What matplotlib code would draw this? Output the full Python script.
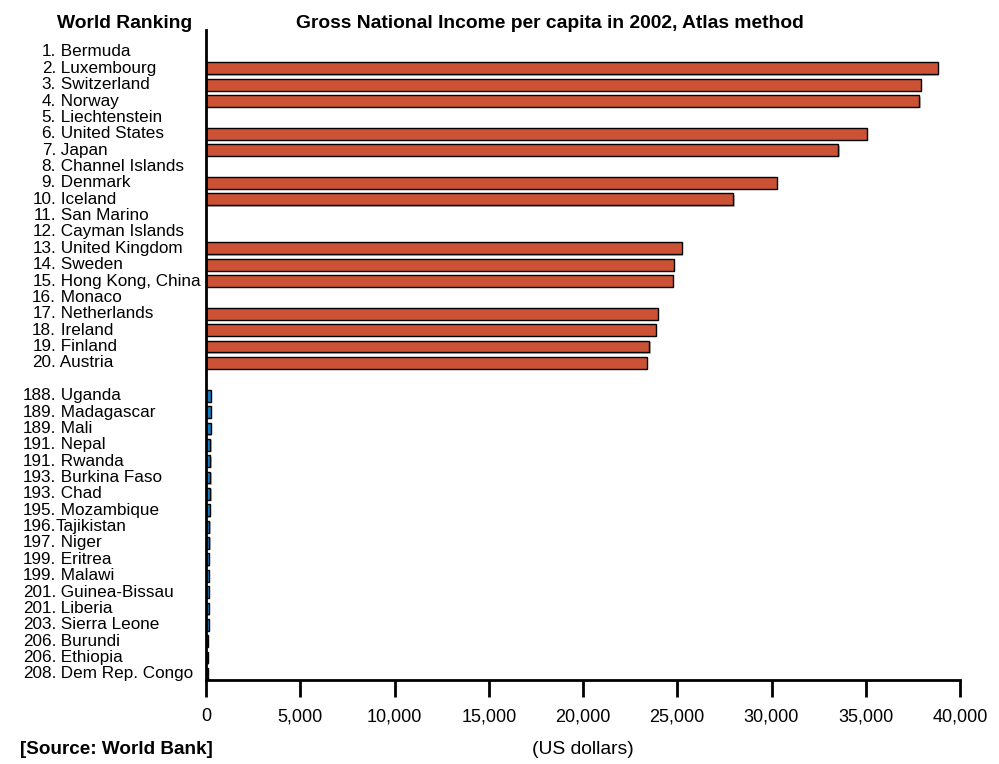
import re
import matplotlib
matplotlib.use('Agg')
from matplotlib import pyplot as plt
from matplotlib import patheffects as pe
from matplotlib import transforms
from matplotlib.ticker import FuncFormatter

plt.rcParams['font.family'] = ['Liberation Sans', 'DejaVu Sans']

# richest 20 (None = no figure shown)
top_labels = ['1. Bermuda', '2. Luxembourg', '3. Switzerland', '4. Norway',
              '5. Liechtenstein', '6. United States', '7. Japan',
              '8. Channel Islands', '9. Denmark', '10. Iceland', '11. San Marino',
              '12. Cayman Islands', '13. United Kingdom', '14. Sweden',
              '15. Hong Kong, China', '16. Monaco', '17. Netherlands',
              '18. Ireland', '19. Finland', '20. Austria']
top_values = [None, 38830, 37930, 37850, None, 35060, 33550, None, 30290, 27970,
              None, None, 25250, 24820, 24750, None, 23960, 23870, 23510, 23390]

# poorest countries
bottom_labels = ['188. Uganda', '189. Madagascar', '189. Mali', '191. Nepal',
                 '191. Rwanda', '193. Burkina Faso', '193. Chad', '195. Mozambique',
                 '196.Tajikistan', '197. Niger', '199. Eritrea', '199. Malawi',
                 '201. Guinea-Bissau', '201. Liberia', '203. Sierra Leone',
                 '206. Burundi', '206. Ethiopia', '208. Dem Rep. Congo']
bottom_values = [250, 240, 240, 230, 230, 220, 220, 200, 180, 170, 160, 160,
                 150, 150, 140, 100, 100, 90]

x_ticks = [0, 5000, 10000, 15000, 20000, 25000, 30000, 35000, 40000]

red = '#cb5235'
blue = '#1a7cbf'


def build_rows():
    rows = []
    for i, (lab, val) in enumerate(zip(top_labels, top_values)):
        rows.append((i, lab, val, red))
    # one empty row between the two groups
    start = len(top_labels) + 1
    for j, (lab, val) in enumerate(zip(bottom_labels, bottom_values)):
        rows.append((start + j, lab, val, blue))
    return rows


rows = build_rows()
n_rows = rows[-1][0] + 1

fig = plt.figure(figsize=(9.99, 7.64), dpi=100)
ax = fig.add_axes([206 / 999, 1 - 680 / 764, 754 / 999, 650 / 764])

shadow = [pe.SimplePatchShadow(offset=(1, -1), shadow_rgbFace='#888888', alpha=0.6),
          pe.Normal()]

# x in figure fraction, y in data rows
trans = transforms.blended_transform_factory(fig.transFigure, ax.transData)

for y, lab, val, col in rows:
    if val is not None:
        bars = ax.barh(y, val, height=0.72, color=col, edgecolor='black', linewidth=1.0)
        for p in bars:
            p.set_path_effects(shadow)
    m = re.match(r'(\d+\.)(.*)', lab)
    ax.text(56 / 999, y, m.group(1), transform=trans, fontsize=12.3,
            ha='right', va='center')
    ax.text(56 / 999, y, m.group(2), transform=trans, fontsize=12.3,
            ha='left', va='center')

ax.set_ylim(n_rows - 1 + 0.37, -1.34)
ax.set_xlim(0, 40000)

for s in ['top', 'right']:
    ax.spines[s].set_visible(False)
ax.spines['left'].set_linewidth(2)
ax.spines['bottom'].set_linewidth(2)
ax.set_yticks([])
ax.set_xticks(x_ticks)
ax.xaxis.set_major_formatter(FuncFormatter(lambda v, p: f'{int(v):,}'))
ax.tick_params(axis='x', length=12.2, width=2, direction='out', labelsize=13, pad=8)

fig.text(125 / 999, 1 - 23 / 764, 'World Ranking', fontsize=13.9, fontweight='bold',
         ha='center', va='center')
fig.text(550 / 999, 1 - 23 / 764, 'Gross National Income per capita in 2002, Atlas method',
         fontsize=13.9, fontweight='bold', ha='center', va='center')
fig.text(20 / 999, 1 - 750 / 764, '[Source: World Bank]', fontsize=13.6,
         fontweight='bold', ha='left', va='center')
fig.text(583 / 999, 1 - 750 / 764, '(US dollars)', fontsize=13.9, ha='center', va='center')

fig.savefig('out.png', dpi=100)
